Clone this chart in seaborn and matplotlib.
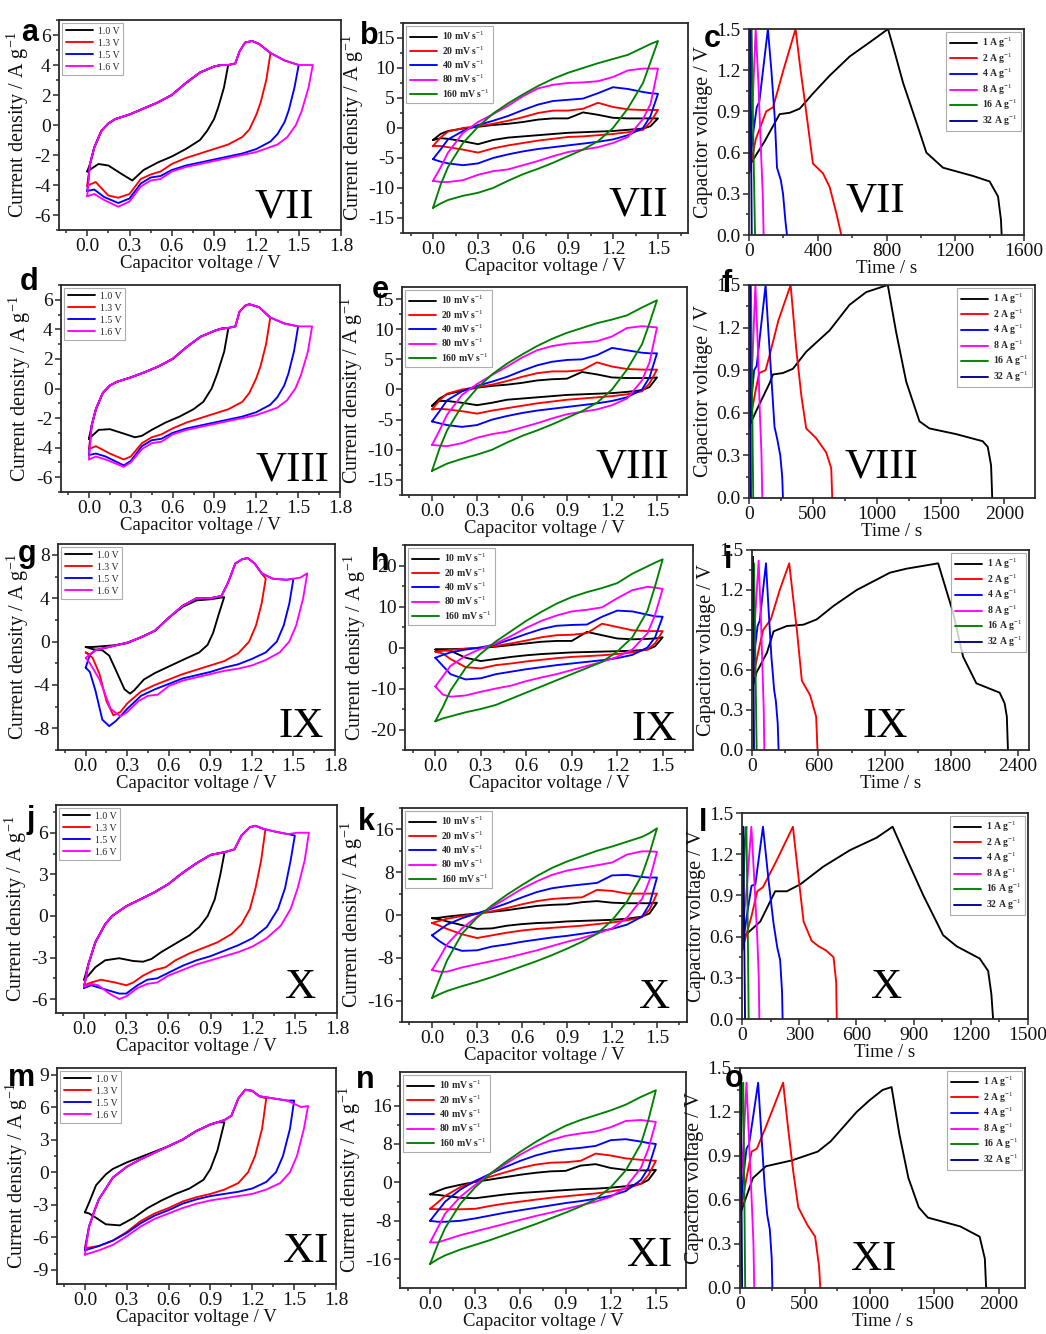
import matplotlib
matplotlib.use("Agg")
import matplotlib.pyplot as plt
import seaborn as sns
import pandas as pd
from matplotlib.ticker import MultipleLocator, AutoMinorLocator, FormatStrFormatter

# ---------------------------------------------------------------- data
WIN_LABELS = ["1.0 V", "1.3 V", "1.5 V", "1.6 V"]
WIN_VALUES = [1.0, 1.3, 1.5, 1.6]
WIN_COLORS = ["#000000", "#ff0000", "#0000ff", "#ff00ff"]

SR_LABELS = ["10 mV s$^{-1}$", "20 mV s$^{-1}$", "40 mV s$^{-1}$", "80 mV s$^{-1}$", "160 mV s$^{-1}$"]
SR_COLORS = ["#000000", "#ff0000", "#0000ff", "#ff00ff", "#008000"]
SR_V = [0, 0.05, 0.1, 0.2, 0.3, 0.4, 0.5, 0.6, 0.7, 0.8, 0.9, 1.0, 1.1, 1.2, 1.3, 1.4, 1.45, 1.5]

GCD_LABELS = ["1 A g$^{-1}$", "2 A g$^{-1}$", "4 A g$^{-1}$", "8 A g$^{-1}$", "16 A g$^{-1}$", "32 A g$^{-1}$"]
GCD_COLORS = ["#000000", "#ff0000", "#0000ff", "#ff00ff", "#008000", "#00008b"]

# ---- column 1: voltage windows (common anodic branch + cathodic branch per window)
a_up_v = [0.02, 0.05, 0.1, 0.15, 0.2, 0.3, 0.4, 0.5, 0.6, 0.7, 0.8, 0.9, 0.95, 1.0, 1.05, 1.08, 1.12, 1.17, 1.22, 1.3, 1.4, 1.5, 1.6]
a_up_i = [-2.6, -1.5, -0.4, 0.1, 0.4, 0.7, 1.1, 1.5, 2.0, 2.8, 3.5, 3.9, 4.0, 4.0, 4.1, 4.9, 5.5, 5.6, 5.4, 4.8, 4.3, 4.0, 4.0]
a_down = {
    "1.0 V": ([1.0, 0.97, 0.93, 0.9, 0.85, 0.8, 0.7, 0.6, 0.5, 0.4, 0.32, 0.25, 0.15, 0.08, 0.0],
              [4.0, 2.5, 1.2, 0.4, -0.4, -1.0, -1.6, -2.1, -2.5, -3.0, -3.7, -3.3, -2.7, -2.6, -3.1]),
    "1.3 V": ([1.3, 1.27, 1.23, 1.2, 1.15, 1.1, 1.0, 0.9, 0.8, 0.7, 0.6, 0.52, 0.45, 0.38, 0.3, 0.22, 0.15, 0.06, 0.0],
              [4.8, 3.0, 1.5, 0.7, -0.3, -0.8, -1.3, -1.6, -1.9, -2.2, -2.6, -3.1, -3.3, -3.6, -4.6, -4.85, -4.7, -3.8, -4.05]),
    "1.5 V": ([1.5, 1.47, 1.43, 1.4, 1.35, 1.3, 1.2, 1.1, 1.0, 0.9, 0.8, 0.7, 0.6, 0.52, 0.45, 0.38, 0.3, 0.22, 0.12, 0.05, 0.0],
              [4.0, 2.5, 1.0, 0.2, -0.6, -1.1, -1.6, -1.9, -2.1, -2.3, -2.5, -2.7, -3.0, -3.4, -3.5, -3.9, -4.9, -5.2, -4.8, -4.3, -4.4]),
    "1.6 V": ([1.6, 1.57, 1.52, 1.48, 1.42, 1.35, 1.2, 1.1, 1.0, 0.9, 0.8, 0.7, 0.6, 0.52, 0.45, 0.38, 0.3, 0.22, 0.12, 0.05, 0.0],
              [4.0, 2.5, 0.9, 0.0, -0.8, -1.3, -1.8, -2.0, -2.2, -2.4, -2.6, -2.8, -3.1, -3.6, -3.7, -4.1, -5.1, -5.45, -5.0, -4.6, -4.75]),
}

d_up_v = [0.02, 0.05, 0.1, 0.15, 0.2, 0.3, 0.4, 0.5, 0.6, 0.7, 0.8, 0.9, 0.95, 1.0, 1.05, 1.08, 1.12, 1.15, 1.22, 1.3, 1.4, 1.5, 1.6]
d_up_i = [-2.5, -1.4, -0.3, 0.2, 0.45, 0.75, 1.1, 1.5, 2.0, 2.8, 3.5, 3.9, 4.05, 4.1, 4.2, 5.2, 5.6, 5.7, 5.5, 4.8, 4.4, 4.2, 4.2]
d_down = {
    "1.0 V": ([1.0, 0.97, 0.92, 0.88, 0.82, 0.75, 0.65, 0.55, 0.45, 0.38, 0.33, 0.25, 0.15, 0.07, 0.0],
              [4.1, 2.5, 1.0, 0.0, -0.9, -1.4, -1.9, -2.3, -2.8, -3.2, -3.3, -3.05, -2.75, -2.8, -3.4]),
    "1.3 V": ([1.3, 1.27, 1.23, 1.2, 1.15, 1.1, 1.0, 0.9, 0.8, 0.7, 0.6, 0.52, 0.45, 0.38, 0.3, 0.25, 0.15, 0.05, 0.0],
              [4.8, 3.0, 1.5, 0.7, -0.3, -0.9, -1.4, -1.7, -2.0, -2.3, -2.7, -3.1, -3.3, -3.7, -4.6, -4.8, -4.4, -3.9, -4.1]),
    "1.5 V": ([1.5, 1.47, 1.43, 1.4, 1.35, 1.3, 1.2, 1.1, 1.0, 0.9, 0.8, 0.7, 0.6, 0.52, 0.45, 0.38, 0.3, 0.25, 0.12, 0.05, 0.0],
              [4.2, 2.5, 1.0, 0.2, -0.6, -1.1, -1.6, -1.9, -2.1, -2.3, -2.5, -2.7, -3.0, -3.4, -3.5, -3.9, -4.9, -5.2, -4.6, -4.4, -4.5]),
    "1.6 V": ([1.6, 1.57, 1.52, 1.48, 1.42, 1.35, 1.2, 1.1, 1.0, 0.9, 0.8, 0.7, 0.6, 0.52, 0.45, 0.38, 0.3, 0.25, 0.12, 0.05, 0.0],
              [4.2, 2.5, 0.9, 0.0, -0.8, -1.3, -1.8, -2.0, -2.2, -2.4, -2.6, -2.8, -3.1, -3.6, -3.7, -4.1, -5.0, -5.3, -4.8, -4.6, -4.8]),
}

g_up_v = [0.03, 0.07, 0.1, 0.2, 0.3, 0.4, 0.5, 0.6, 0.7, 0.8, 0.9, 0.98, 1.03, 1.08, 1.13, 1.17, 1.22, 1.27, 1.35, 1.45, 1.5, 1.55, 1.6]
g_up_i = [-1.2, -0.8, -0.7, -0.4, -0.1, 0.4, 1.0, 2.2, 3.3, 4.0, 4.0, 4.2, 5.5, 7.2, 7.6, 7.7, 7.2, 6.3, 5.8, 5.7, 5.8, 5.9, 6.3]
g_up_black = ([0.05, 0.1, 0.2, 0.3, 0.4, 0.5, 0.6, 0.7, 0.8, 0.9, 0.95],
              [-0.5, -0.45, -0.35, -0.15, 0.4, 1.0, 2.2, 3.2, 3.8, 3.9, 4.0])
g_down = {
    "1.0 V": ([1.0, 0.96, 0.92, 0.88, 0.82, 0.7, 0.6, 0.5, 0.42, 0.35, 0.32, 0.28, 0.22, 0.17, 0.12, 0.05, 0.0],
              [4.1, 2.5, 0.8, -0.3, -1.0, -1.7, -2.3, -2.9, -3.5, -4.5, -4.8, -4.4, -2.7, -1.3, -0.8, -0.7, -0.5]),
    "1.3 V": ([1.3, 1.27, 1.23, 1.18, 1.1, 1.0, 0.9, 0.8, 0.7, 0.6, 0.5, 0.4, 0.3, 0.25, 0.2, 0.15, 0.1, 0.05, 0.0],
              [5.8, 3.5, 1.5, 0.0, -1.1, -1.8, -2.2, -2.6, -3.0, -3.5, -4.0, -4.6, -5.7, -6.5, -6.8, -5.5, -3.0, -1.5, -1.0]),
    "1.5 V": ([1.5, 1.47, 1.43, 1.38, 1.3, 1.2, 1.1, 1.0, 0.9, 0.8, 0.7, 0.6, 0.5, 0.4, 0.3, 0.22, 0.17, 0.12, 0.07, 0.03, 0.0],
              [5.8, 3.5, 1.5, 0.0, -1.0, -1.6, -2.1, -2.4, -2.8, -3.1, -3.4, -3.9, -4.4, -5.0, -6.2, -7.3, -7.8, -7.2, -4.5, -2.8, -2.4]),
    "1.6 V": ([1.6, 1.57, 1.52, 1.47, 1.4, 1.3, 1.2, 1.1, 1.0, 0.9, 0.8, 0.7, 0.6, 0.52, 0.45, 0.38, 0.3, 0.25, 0.18, 0.1, 0.03, 0.0],
              [6.3, 4.0, 1.5, 0.0, -1.0, -1.7, -2.2, -2.5, -2.7, -3.0, -3.3, -3.6, -4.1, -4.9, -5.0, -5.5, -6.5, -6.9, -6.2, -3.5, -2.0, -1.5]),
}

j_up_v = [0.03, 0.08, 0.15, 0.2, 0.3, 0.4, 0.5, 0.6, 0.7, 0.8, 0.9, 1.0, 1.07, 1.12, 1.18, 1.22, 1.27, 1.35, 1.45, 1.52, 1.57]
j_up_i = [-3.5, -1.9, -0.6, 0.0, 0.7, 1.2, 1.7, 2.3, 3.1, 3.8, 4.4, 4.6, 4.8, 5.8, 6.4, 6.5, 6.3, 6.1, 5.9, 6.0, 6.0]
j_down = {
    "1.0 V": ([1.0, 0.97, 0.93, 0.88, 0.82, 0.75, 0.65, 0.55, 0.48, 0.42, 0.35, 0.25, 0.15, 0.08, 0.03, 0.0],
              [4.6, 3.0, 1.2, 0.0, -0.8, -1.4, -2.0, -2.6, -3.1, -3.3, -3.25, -3.05, -3.2, -3.7, -4.3, -4.6]),
    "1.3 V": ([1.29, 1.26, 1.22, 1.18, 1.12, 1.05, 0.95, 0.85, 0.75, 0.65, 0.58, 0.5, 0.42, 0.35, 0.3, 0.22, 0.12, 0.05, 0.0],
              [6.2, 4.0, 2.0, 0.5, -0.6, -1.3, -1.9, -2.3, -2.7, -3.2, -3.7, -3.9, -4.3, -4.8, -5.0, -4.8, -4.6, -4.8, -5.0]),
    "1.5 V": ([1.5, 1.47, 1.43, 1.38, 1.3, 1.2, 1.1, 1.0, 0.9, 0.8, 0.7, 0.6, 0.52, 0.45, 0.38, 0.3, 0.25, 0.15, 0.05, 0.0],
              [5.8, 4.0, 2.0, 0.5, -0.8, -1.6, -2.1, -2.5, -2.9, -3.2, -3.6, -4.1, -4.5, -4.6, -5.0, -5.6, -5.6, -5.3, -5.0, -5.2]),
    "1.6 V": ([1.6, 1.57, 1.52, 1.47, 1.4, 1.3, 1.2, 1.1, 1.0, 0.9, 0.8, 0.7, 0.6, 0.52, 0.45, 0.38, 0.3, 0.25, 0.18, 0.1, 0.05, 0.0],
              [6.0, 4.0, 2.0, 0.5, -0.7, -1.6, -2.2, -2.6, -2.9, -3.2, -3.5, -3.9, -4.3, -4.8, -4.9, -5.2, -5.8, -6.0, -5.6, -5.0, -4.9, -5.1]),
}

m_up_v = [0.03, 0.07, 0.1, 0.2, 0.3, 0.4, 0.5, 0.6, 0.7, 0.8, 0.9, 1.0, 1.05, 1.1, 1.15, 1.2, 1.25, 1.35, 1.45, 1.55]
m_up_i = [-5.0, -3.5, -2.5, -0.5, 0.5, 1.2, 1.8, 2.4, 3.0, 3.8, 4.4, 4.8, 5.2, 6.8, 7.6, 7.5, 7.0, 6.8, 6.6, 6.0]
m_up_black = ([0.03, 0.08, 0.15, 0.2, 0.3, 0.4, 0.5, 0.6, 0.7, 0.8, 0.9, 0.95],
              [-2.8, -1.2, -0.2, 0.3, 0.9, 1.4, 1.9, 2.4, 3.0, 3.8, 4.4, 4.6])
m_down = {
    "1.0 V": ([1.0, 0.95, 0.9, 0.85, 0.75, 0.65, 0.55, 0.45, 0.35, 0.25, 0.15, 0.08, 0.03, 0.0],
              [4.6, 2.0, 0.3, -0.7, -1.5, -2.0, -2.6, -3.3, -4.2, -4.9, -4.8, -4.2, -3.8, -3.7]),
    "1.3 V": ([1.3, 1.27, 1.22, 1.17, 1.1, 1.0, 0.9, 0.8, 0.7, 0.6, 0.5, 0.4, 0.3, 0.2, 0.1, 0.0],
              [6.8, 4.0, 1.5, 0.0, -1.0, -1.6, -2.0, -2.3, -2.7, -3.3, -3.8, -4.5, -5.5, -6.3, -6.8, -7.0]),
    "1.5 V": ([1.5, 1.47, 1.42, 1.37, 1.3, 1.2, 1.1, 1.0, 0.9, 0.8, 0.7, 0.6, 0.5, 0.4, 0.3, 0.2, 0.1, 0.0],
              [6.6, 4.0, 1.5, 0.0, -0.9, -1.5, -1.8, -2.0, -2.2, -2.5, -2.9, -3.5, -4.0, -4.7, -5.6, -6.3, -6.8, -7.2]),
    "1.6 V": ([1.6, 1.57, 1.52, 1.47, 1.4, 1.3, 1.2, 1.1, 1.0, 0.9, 0.8, 0.7, 0.6, 0.5, 0.4, 0.3, 0.2, 0.1, 0.0],
              [6.1, 4.0, 1.5, 0.0, -1.0, -1.6, -2.0, -2.2, -2.4, -2.6, -2.9, -3.3, -3.8, -4.3, -5.0, -5.9, -6.7, -7.2, -7.6]),
}

# ---- column 2: scan rates (anodic on SR_V ascending, cathodic on SR_V descending)
b_up = [
    [-2.0, -1.0, -0.5, -0.1, 0.2, 0.5, 0.7, 1.0, 1.4, 1.6, 1.6, 2.6, 2.2, 1.7, 1.6, 1.6, 1.6, 1.6],
    [-3.0, -1.6, -0.6, 0.0, 0.3, 0.7, 1.2, 1.8, 2.5, 2.9, 2.9, 3.2, 4.2, 3.5, 3.1, 3.0, 3.0, 3.0],
    [-5.2, -3.6, -1.9, -0.5, 0.5, 1.2, 2.0, 3.0, 3.9, 4.5, 4.7, 4.9, 5.8, 6.8, 6.5, 6.0, 5.8, 5.7],
    [-8.8, -6.6, -4.1, -0.8, 1.0, 2.3, 3.7, 5.3, 6.6, 7.2, 7.5, 7.6, 7.8, 8.5, 9.6, 9.9, 9.9, 9.9],
    [-13.3, -9.5, -6.5, -2.5, 0.2, 2.4, 4.1, 5.6, 7.0, 8.2, 9.2, 10.0, 10.8, 11.5, 12.2, 13.4, 14.0, 14.5],
]
b_down = [
    [1.6, 0.3, -0.1, -0.3, -0.5, -0.6, -0.7, -0.8, -1.0, -1.2, -1.4, -1.6, -2.0, -2.7, -2.2, -1.8, -1.7, -2.0],
    [3.0, 1.0, -0.3, -0.7, -1.0, -1.2, -1.4, -1.5, -1.8, -2.1, -2.5, -2.9, -3.4, -4.1, -3.6, -3.2, -3.0, -3.0],
    [5.7, 2.0, 0.0, -1.2, -1.9, -2.3, -2.6, -2.9, -3.2, -3.5, -3.9, -4.4, -5.0, -5.9, -6.2, -5.9, -5.6, -5.2],
    [9.9, 4.0, 1.5, -1.5, -2.5, -3.2, -3.6, -4.0, -4.7, -5.5, -6.2, -6.9, -7.2, -7.8, -8.7, -9.0, -9.0, -8.8],
    [14.5, 11.0, 7.5, 3.3, 0.0, -2.2, -3.6, -4.7, -5.8, -6.8, -7.7, -8.8, -10.0, -10.8, -11.3, -12.0, -12.6, -13.3],
]
e_up = [
    [-2.7, -1.5, -0.8, -0.2, 0.3, 0.6, 0.8, 1.1, 1.5, 1.7, 1.8, 2.9, 2.5, 2.0, 1.9, 1.9, 1.9, 2.0],
    [-3.3, -1.8, -0.7, 0.0, 0.4, 0.8, 1.4, 2.1, 2.7, 3.0, 3.0, 3.2, 4.5, 3.8, 3.4, 3.3, 3.3, 3.3],
    [-5.3, -3.6, -1.8, -0.3, 0.6, 1.3, 2.1, 3.1, 4.0, 4.6, 4.9, 5.0, 5.7, 6.9, 6.5, 6.1, 6.0, 6.0],
    [-9.2, -6.8, -4.2, -0.9, 0.9, 2.4, 3.8, 5.3, 6.5, 7.2, 7.6, 7.8, 8.0, 8.8, 10.2, 10.5, 10.4, 10.3],
    [-13.5, -9.8, -6.8, -2.7, 0.2, 2.5, 4.3, 5.8, 7.2, 8.4, 9.4, 10.2, 11.0, 11.6, 12.3, 13.6, 14.2, 14.8],
]
e_down = [
    [2.0, 0.4, -0.1, -0.4, -0.6, -0.7, -0.8, -0.9, -1.1, -1.3, -1.5, -1.7, -2.2, -2.6, -2.2, -1.9, -1.9, -2.7],
    [3.3, 1.0, -0.3, -0.8, -1.1, -1.3, -1.5, -1.7, -2.0, -2.3, -2.7, -3.1, -3.5, -4.0, -3.6, -3.3, -3.2, -3.3],
    [6.0, 2.0, 0.0, -1.3, -1.9, -2.3, -2.6, -2.9, -3.2, -3.5, -3.9, -4.4, -5.0, -5.9, -6.2, -5.9, -5.6, -5.3],
    [10.3, 4.5, 1.5, -1.5, -2.6, -3.3, -3.7, -4.1, -4.8, -5.6, -6.3, -7.0, -7.4, -8.0, -8.9, -9.4, -9.3, -9.2],
    [14.8, 11.0, 7.5, 3.3, 0.0, -2.2, -3.6, -4.7, -5.8, -6.8, -7.7, -8.8, -10.0, -10.8, -11.5, -12.3, -12.9, -13.5],
]
h_up = [
    [-0.5, -0.4, -0.4, -0.3, -0.1, 0.2, 0.6, 1.0, 1.4, 1.6, 1.6, 3.8, 3.0, 2.2, 2.0, 2.1, 2.2, 2.5],
    [-1.0, -0.8, -0.6, -0.3, 0.0, 0.4, 1.0, 1.7, 2.5, 3.0, 3.1, 3.5, 5.8, 5.0, 4.2, 4.0, 4.0, 4.0],
    [-2.5, -1.8, -1.2, -0.5, 0.0, 0.8, 2.0, 3.3, 4.5, 5.3, 5.5, 5.6, 7.5, 9.0, 8.8, 8.0, 7.6, 7.5],
    [-9.5, -7.0, -4.5, -2.0, -0.3, 1.0, 2.8, 4.8, 6.5, 7.8, 8.8, 9.2, 9.8, 12.0, 14.0, 14.8, 14.6, 14.3],
    [-18.0, -14.5, -10.5, -5.0, -1.5, 1.5, 4.0, 6.5, 8.7, 10.7, 12.3, 13.5, 14.5, 15.7, 18.0, 19.8, 20.7, 21.5],
]
h_down = [
    [2.5, 0.3, -0.5, -0.8, -0.9, -1.0, -1.1, -1.2, -1.4, -1.6, -1.9, -2.3, -2.8, -3.3, -2.5, -0.8, -0.6, -0.5],
    [4.0, 1.0, -0.5, -1.2, -1.6, -1.9, -2.1, -2.3, -2.6, -3.0, -3.4, -3.9, -4.3, -5.1, -4.8, -2.8, -1.5, -1.0],
    [7.5, 2.5, 0.0, -1.8, -2.6, -3.1, -3.5, -3.9, -4.3, -4.8, -5.3, -5.9, -6.5, -7.5, -7.8, -6.5, -4.5, -2.5],
    [14.3, 8.0, 3.5, -0.5, -2.3, -3.5, -4.5, -5.5, -6.5, -7.3, -8.2, -9.3, -10.0, -10.8, -11.7, -12.0, -11.5, -9.5],
    [21.5, 15.0, 9.0, 2.5, -1.0, -3.5, -5.0, -6.5, -8.0, -9.5, -11.0, -12.5, -14.0, -15.0, -15.8, -16.8, -17.3, -18.0],
]
k_up = [
    [-0.6, -0.5, -0.3, 0.0, 0.3, 0.6, 0.9, 1.3, 1.7, 1.9, 2.0, 2.4, 2.6, 2.3, 2.2, 2.2, 2.2, 2.3],
    [-1.5, -1.1, -0.7, -0.2, 0.2, 0.7, 1.3, 2.0, 2.6, 3.0, 3.2, 3.3, 4.7, 4.5, 4.0, 4.0, 4.0, 4.0],
    [-3.8, -2.8, -1.8, -0.6, 0.3, 1.2, 2.2, 3.3, 4.3, 5.0, 5.4, 5.7, 6.0, 7.4, 7.5, 7.1, 7.0, 7.0],
    [-10.3, -8.0, -5.5, -2.5, -0.3, 1.5, 3.2, 4.9, 6.3, 7.5, 8.3, 8.8, 9.3, 9.8, 11.3, 11.9, 11.9, 11.8],
    [-15.5, -12.0, -8.5, -3.5, -0.5, 1.8, 3.8, 5.6, 7.3, 8.8, 10.0, 11.0, 12.0, 12.8, 13.7, 14.6, 15.3, 16.2],
]
k_down = [
    [2.3, 0.3, -0.3, -0.7, -0.9, -1.0, -1.1, -1.2, -1.4, -1.5, -1.7, -2.0, -2.5, -2.6, -1.9, -1.2, -0.8, -0.6],
    [4.0, 1.0, -0.4, -1.0, -1.4, -1.7, -2.0, -2.2, -2.4, -2.6, -2.9, -3.3, -3.8, -4.3, -3.6, -2.6, -2.0, -1.5],
    [7.0, 2.0, -0.3, -1.8, -2.6, -3.1, -3.5, -3.9, -4.2, -4.6, -5.0, -5.5, -5.9, -6.6, -6.7, -5.8, -4.9, -3.8],
    [11.8, 6.5, 3.0, -0.5, -2.5, -3.5, -4.3, -5.0, -5.8, -6.6, -7.3, -8.0, -8.6, -9.2, -9.8, -10.6, -10.6, -10.3],
    [16.2, 11.5, 7.5, 2.5, -1.0, -3.5, -5.0, -6.3, -7.5, -8.6, -9.6, -10.6, -11.6, -12.5, -13.3, -14.2, -14.8, -15.5],
]
n_up = [
    [-2.5, -1.8, -1.2, -0.5, 0.1, 0.6, 1.1, 1.6, 2.0, 2.3, 2.4, 3.5, 3.8, 3.0, 2.6, 2.5, 2.5, 2.6],
    [-5.5, -4.2, -2.8, -1.0, 0.2, 1.2, 2.1, 3.0, 3.7, 4.1, 4.2, 4.5, 6.0, 5.6, 5.0, 4.7, 4.6, 4.5],
    [-8.0, -6.0, -4.0, -1.5, 0.3, 1.8, 3.2, 4.5, 5.6, 6.4, 6.9, 7.2, 7.6, 8.8, 9.0, 8.5, 8.2, 8.0],
    [-12.5, -9.5, -6.5, -3.0, -0.5, 1.8, 3.8, 5.8, 7.5, 8.8, 9.7, 10.2, 10.6, 11.5, 12.8, 13.0, 12.8, 12.6],
    [-17.0, -13.0, -9.5, -4.5, -1.0, 1.8, 4.2, 6.4, 8.4, 10.2, 11.8, 13.0, 14.0, 15.0, 16.2, 17.8, 18.5, 19.2],
]
n_down = [
    [2.6, 0.5, -0.3, -0.8, -1.1, -1.3, -1.4, -1.6, -1.8, -2.0, -2.2, -2.5, -2.9, -3.3, -3.2, -2.8, -2.6, -2.5],
    [4.5, 1.5, -0.3, -1.3, -1.9, -2.3, -2.6, -2.9, -3.2, -3.6, -4.0, -4.4, -4.9, -5.5, -5.6, -5.6, -5.6, -5.5],
    [8.0, 3.0, 0.5, -1.8, -2.8, -3.4, -3.9, -4.3, -4.8, -5.3, -5.8, -6.3, -6.9, -7.5, -8.0, -8.2, -8.2, -8.0],
    [12.6, 7.0, 3.0, -1.0, -3.0, -4.0, -4.8, -5.5, -6.3, -7.0, -7.8, -8.6, -9.4, -10.2, -11.0, -12.0, -12.5, -12.5],
    [19.2, 13.0, 8.0, 2.5, -1.0, -3.5, -5.0, -6.3, -7.5, -8.7, -9.8, -10.9, -12.0, -13.0, -14.0, -15.2, -16.0, -17.0],
]

# ---- column 3: galvanostatic charge/discharge (time s, voltage V)
c_gcd = [
    ([0, 10, 90, 178, 237, 295, 372, 469, 586, 721, 809, 850, 896, 974, 1032, 1129, 1303, 1400, 1449, 1466, 1470],
     [0.45, 0.52, 0.68, 0.88, 0.89, 0.92, 1.03, 1.16, 1.30, 1.42, 1.5, 1.32, 1.11, 0.82, 0.60, 0.49, 0.43, 0.39, 0.28, 0.11, 0.0]),
    ([0, 40, 100, 140, 200, 271, 300, 324, 372, 430, 469, 508, 537],
     [0.45, 0.7, 0.9, 0.93, 1.2, 1.5, 1.2, 0.98, 0.52, 0.45, 0.35, 0.16, 0.0]),
    ([0, 25, 45, 60, 110, 130, 150, 163, 185, 198, 212, 221],
     [0.45, 0.75, 0.93, 0.97, 1.5, 1.2, 0.85, 0.49, 0.4, 0.3, 0.1, 0.0]),
    ([0, 10, 20, 39, 55, 70, 80, 85], [0.45, 0.75, 0.92, 1.5, 1.1, 0.6, 0.3, 0.0]),
    ([0, 5, 15, 25, 35], [0.45, 0.9, 1.5, 0.7, 0.0]),
    ([0, 3, 7, 12, 16], [0.45, 0.9, 1.5, 0.7, 0.0]),
]
f_gcd = [
    ([0, 60, 162, 188, 266, 344, 448, 631, 787, 918, 1087, 1152, 1231, 1335, 1413, 1622, 1830, 1870, 1896, 1905],
     [0.5, 0.62, 0.81, 0.87, 0.88, 0.91, 1.03, 1.18, 1.36, 1.45, 1.5, 1.17, 0.82, 0.54, 0.49, 0.45, 0.40, 0.36, 0.23, 0.0]),
    ([0, 50, 80, 130, 160, 230, 326, 370, 410, 448, 527, 605, 644, 652],
     [0.5, 0.75, 0.88, 0.9, 1.0, 1.25, 1.5, 1.05, 0.72, 0.49, 0.42, 0.32, 0.21, 0.0]),
    ([0, 20, 40, 60, 130, 150, 175, 200, 220, 245, 260, 266],
     [0.5, 0.7, 0.9, 0.93, 1.5, 1.2, 0.85, 0.5, 0.42, 0.3, 0.15, 0.0]),
    ([0, 10, 25, 50, 70, 85, 98, 104], [0.5, 0.75, 0.92, 1.5, 1.05, 0.6, 0.3, 0.0]),
    ([0, 5, 15, 25, 33], [0.5, 0.9, 1.5, 0.7, 0.0]),
    ([0, 3, 7, 11, 15], [0.5, 0.9, 1.5, 0.7, 0.0]),
]
i_gcd = [
    ([0, 40, 135, 195, 315, 465, 585, 735, 945, 1245, 1395, 1680, 1815, 1905, 2025, 2235, 2280, 2300, 2310],
     [0.45, 0.58, 0.73, 0.89, 0.93, 0.94, 0.98, 1.08, 1.2, 1.33, 1.36, 1.4, 1.03, 0.7, 0.5, 0.43, 0.35, 0.25, 0.0]),
    ([0, 60, 100, 170, 250, 336, 370, 405, 450, 525, 579, 591],
     [0.5, 0.75, 0.9, 0.98, 1.2, 1.4, 1.15, 0.9, 0.52, 0.41, 0.25, 0.0]),
    ([0, 25, 50, 70, 126, 150, 175, 200, 215, 232, 240],
     [0.5, 0.75, 0.93, 0.97, 1.4, 1.05, 0.7, 0.45, 0.37, 0.2, 0.0]),
    ([0, 10, 25, 60, 80, 95, 106, 111], [0.5, 0.75, 0.95, 1.42, 1.0, 0.6, 0.3, 0.0]),
    ([0, 6, 18, 30, 42], [0.5, 0.9, 1.4, 0.7, 0.0]),
    ([0, 3, 8, 13, 18], [0.5, 0.9, 1.45, 0.7, 0.0]),
]
l_gcd = [
    ([0, 17, 96, 174, 235, 305, 427, 567, 706, 790, 863, 951, 1055, 1125, 1247, 1291, 1308, 1317],
     [0.49, 0.61, 0.71, 0.93, 0.93, 0.98, 1.11, 1.23, 1.32, 1.4, 1.17, 0.9, 0.61, 0.53, 0.44, 0.35, 0.18, 0.0]),
    ([0, 50, 80, 110, 180, 267, 295, 323, 365, 401, 440, 480, 494, 497],
     [0.5, 0.75, 0.93, 0.96, 1.15, 1.4, 1.05, 0.71, 0.57, 0.53, 0.5, 0.45, 0.27, 0.0]),
    ([0, 25, 50, 70, 110, 140, 165, 185, 200, 210, 213],
     [0.5, 0.75, 0.97, 0.98, 1.4, 1.0, 0.7, 0.52, 0.43, 0.2, 0.0]),
    ([0, 10, 25, 49, 65, 80, 88, 91], [0.5, 0.75, 0.95, 1.4, 1.0, 0.6, 0.3, 0.0]),
    ([0, 5, 15, 23, 30, 35], [0.5, 0.85, 1.3, 1.4, 0.7, 0.0]),
    ([0, 3, 7, 11, 16], [0.5, 0.9, 1.4, 0.7, 0.0]),
]
o_gcd = [
    ([0, 100, 200, 400, 600, 700, 800, 900, 1000, 1100, 1170, 1230, 1300, 1380, 1450, 1700, 1850, 1890, 1900],
     [0.5, 0.75, 0.83, 0.87, 0.93, 1.0, 1.1, 1.2, 1.28, 1.35, 1.37, 1.05, 0.75, 0.55, 0.48, 0.42, 0.35, 0.2, 0.0]),
    ([0, 50, 90, 130, 200, 333, 370, 410, 450, 520, 580, 610, 620],
     [0.5, 0.75, 0.93, 0.95, 1.1, 1.4, 1.1, 0.8, 0.55, 0.43, 0.35, 0.15, 0.0]),
    ([0, 25, 50, 70, 140, 165, 190, 210, 230, 245, 250],
     [0.5, 0.75, 0.95, 0.98, 1.4, 1.05, 0.7, 0.5, 0.4, 0.2, 0.0]),
    ([0, 10, 25, 50, 70, 90, 104, 110], [0.5, 0.75, 0.95, 1.4, 1.0, 0.6, 0.3, 0.0]),
    ([0, 5, 15, 25, 33, 40], [0.5, 0.85, 1.3, 1.4, 0.7, 0.0]),
    ([0, 3, 7, 11, 16], [0.5, 0.9, 1.4, 0.7, 0.0]),
]

# ---------------------------------------------------------------- style
sns.set_theme(style="ticks")
plt.rcParams["font.family"] = ["Liberation Serif", "DejaVu Serif"]
plt.rcParams["mathtext.fontset"] = "custom"
plt.rcParams["mathtext.rm"] = "Liberation Serif"
plt.rcParams["mathtext.it"] = "Liberation Serif:italic"
plt.rcParams["mathtext.bf"] = "Liberation Serif:bold"
plt.rcParams["axes.unicode_minus"] = False

W, H = 1046, 1334
fig = plt.figure(figsize=(W / 100, H / 100), dpi=100)
FRAME = "#2a2a2a"
LW = 1.35


def add_ax(l, t, r, b):
    return fig.add_axes([l / W, 1 - b / H, (r - l) / W, (b - t) / H])


def style(ax, xlim, ylim, xstep, ystep, xfmt, yfmt, xlabel, ylabel):
    ax.set_xlim(xlim)
    ax.set_ylim(ylim)
    ax.xaxis.set_major_locator(MultipleLocator(xstep))
    ax.yaxis.set_major_locator(MultipleLocator(ystep))
    ax.xaxis.set_minor_locator(AutoMinorLocator(2))
    ax.yaxis.set_minor_locator(AutoMinorLocator(2))
    ax.xaxis.set_major_formatter(FormatStrFormatter(xfmt))
    ax.yaxis.set_major_formatter(FormatStrFormatter(yfmt))
    ax.tick_params(which="both", direction="out", top=False, right=False,
                   color=FRAME, width=1.1, labelsize=14, pad=2, labelcolor="#111")
    ax.tick_params(which="major", length=4)
    ax.tick_params(which="minor", length=2.5)
    for s in ax.spines.values():
        s.set_color(FRAME)
        s.set_linewidth(1.3)
    ax.set_xlabel(xlabel, fontsize=13.5, labelpad=0, color="#111")
    ax.set_ylabel(ylabel, fontsize=14.5, labelpad=2, color="#111")
    ax.grid(False)


def legend(ax, loc, size, bold, spacing):
    prop = {"family": "Liberation Serif", "size": size, "weight": "bold" if bold else "normal"}
    lg = ax.legend(loc=loc, prop=prop, frameon=True, fancybox=False, edgecolor="#999999",
                   handlelength=2.8, handletextpad=0.5, labelspacing=spacing, borderpad=0.35,
                   borderaxespad=0.35)
    lg.get_frame().set_linewidth(0.8)


def line(ax, x, y, color, label):
    df = pd.DataFrame({"x": x, "y": y})
    sns.lineplot(data=df, x="x", y="y", sort=False, estimator=None, color=color,
                 lw=LW, ax=ax, label=label)


def window_panel(ax, up_v, up_i, down, black_up=None):
    for lab, w, col in zip(WIN_LABELS, WIN_VALUES, WIN_COLORS):
        dv, di = down[lab]
        if lab == "1.0 V" and black_up is not None:
            uv, ui = black_up
        else:
            uv = [v for v in up_v if v < w - 1e-9]
            ui = up_i[:len(uv)]
        x = [dv[-1]] + list(uv) + list(dv)
        y = [di[-1]] + list(ui) + list(di)
        line(ax, x, y, col, lab)


def rate_panel(ax, up, down):
    for lab, col, u, d in zip(SR_LABELS, SR_COLORS, up, down):
        x = SR_V + SR_V[::-1]
        y = list(u) + list(d)
        line(ax, x, y, col, lab)


def gcd_panel(ax, data):
    for lab, col, (t, v) in zip(GCD_LABELS, GCD_COLORS, data):
        line(ax, t, v, col, lab)


CV1 = "Capacitor voltage / V"
CD = "Current density / A g$^{-1}$"
TS = "Time / s"

# ---------------------------------------------------------------- panels
col1 = [
    ((59, 20, 341, 230), a_up_v, a_up_i, a_down, None, (-7, 7), 2),
    ((61, 285, 340, 492), d_up_v, d_up_i, d_down, None, (-7, 7), 2),
    ((58, 544, 335, 750), g_up_v, g_up_i, g_down, g_up_black, (-10, 9), 4),
    ((56, 805, 337, 1013), j_up_v, j_up_i, j_down, None, (-7, 8), 3),
    ((57, 1068, 336, 1284), m_up_v, m_up_i, m_down, m_up_black, (-10.3, 9.6), 3),
]
for box, uv, ui, dn, bl, ylim, ystep in col1:
    ax = add_ax(*box)
    window_panel(ax, uv, ui, dn, bl)
    style(ax, (-0.2, 1.8), ylim, 0.3, ystep, "%.1f", "%d", CV1, CD)
    legend(ax, "upper left", 7, False, 0.3)

col2 = [
    ((403, 23, 688, 233), b_up, b_down, (-17.5, 17.5), 5),
    ((402, 287, 687, 495), e_up, e_down, (-17.5, 17), 5),
    ((405, 545, 693, 750), h_up, h_down, (-25, 25), 10),
    ((402, 808, 687, 1022), k_up, k_down, (-20, 20), 8),
    ((400, 1072, 686, 1288), n_up, n_down, (-22, 23), 8),
]
for box, up, dn, ylim, ystep in col2:
    ax = add_ax(*box)
    rate_panel(ax, up, dn)
    style(ax, (-0.2, 1.7), ylim, 0.3, ystep, "%.1f", "%d", CV1, CD)
    legend(ax, "upper left", 7, True, 0.2)

col3 = [
    ((749, 29, 1024, 235), c_gcd, (0, 1600), 400),
    ((749, 285, 1035, 498), f_gcd, (0, 2240), 500),
    ((752, 550, 1029, 750), i_gcd, (0, 2500), 600),
    ((742, 813, 1028, 1019), l_gcd, (0, 1500), 300),
    ((740, 1068, 1025, 1288), o_gcd, (0, 2200), 500),
]
for box, data, xlim, xstep in col3:
    ax = add_ax(*box)
    gcd_panel(ax, data)
    style(ax, xlim, (0, 1.5), xstep, 0.3, "%d", "%.1f", TS, "Capacitor voltage / V")
    legend(ax, "upper right", 7, True, 0.12)

# ---------------------------------------------------------------- panel letters & sample names
LETTERS = [("a", 21, 41), ("b", 360, 44), ("c", 704, 47),
           ("d", 20, 290), ("e", 372, 298), ("f", 721, 292),
           ("g", 18, 562), ("h", 371, 570), ("i", 724, 568),
           ("j", 26, 828), ("k", 358, 830), ("l", 699, 831),
           ("m", 8, 1086), ("n", 356, 1088), ("o", 725, 1087)]
for s, x, y in LETTERS:
    fig.text(x / W, 1 - y / H, s, fontsize=22, fontweight="bold", family="Liberation Sans",
             ha="left", va="baseline", color="#000")

SAMPLES = [("VII", 284, 218), ("VII", 638, 215), ("VII", 875, 212),
           ("VIII", 292, 480), ("VIII", 632, 478), ("VIII", 881, 478),
           ("IX", 301, 737), ("IX", 654, 740), ("IX", 885, 737),
           ("X", 301, 998), ("X", 655, 1008), ("X", 887, 998),
           ("XI", 306, 1262), ("XI", 650, 1266), ("XI", 874, 1270)]
for s, x, y in SAMPLES:
    fig.text(x / W, 1 - y / H, s, fontsize=31, family="Liberation Serif",
             ha="center", va="baseline", color="#000")

fig.savefig("out.png", dpi=100)
